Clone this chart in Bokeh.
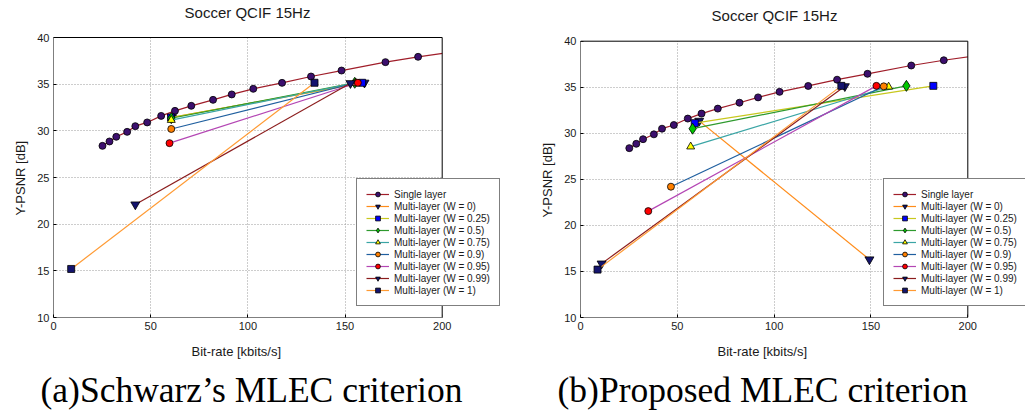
from bokeh.plotting import figure
from bokeh.models import (Range1d, Legend, LegendItem, Title, FixedTicker,
                          BoxAnnotation, Label)
from bokeh.layouts import row
from bokeh.embed import file_html
from bokeh.resources import INLINE

# ---- data -----------------------------------------------------------
single_x = [25.2, 28.8, 32.3, 37.9, 42.1, 48.2, 55.4, 62.5, 70.9, 82.1, 91.7,
            102.8, 117.6, 132.5, 148.2, 170.8, 187.6, 212.0]
single_y = [28.39, 28.86, 29.36, 29.89, 30.5, 30.9, 31.6, 32.14, 32.68, 33.32,
            33.9, 34.5, 35.14, 35.82, 36.46, 37.36, 37.93, 38.65]

weights = ["0", "0.25", "0.5", "0.75", "0.9", "0.95", "0.99", "1"]

# (a) Schwarz's MLEC criterion: base-layer point and enhancement point
schwarz_base_x = [61.0, 60.5, 60.6, 60.6, 60.6, 59.7, 42.1, 9.1]
schwarz_base_y = [31.45, 31.43, 31.35, 31.15, 30.2, 28.68, 22.1, 15.2]
schwarz_end_x = [160.0, 158.8, 155.0, 155.5, 155.8, 156.6, 152.8, 134.3]
schwarz_end_y = [35.15, 35.15, 35.15, 35.15, 35.15, 35.15, 35.1, 35.15]

# (b) Proposed MLEC criterion
proposed_base_x = [61.3, 59.0, 57.9, 56.9, 46.7, 35.0, 10.9, 8.8]
proposed_base_y = [31.35, 31.1, 30.5, 28.55, 24.2, 21.55, 15.85, 15.2]
proposed_end_x = [149.2, 182.2, 168.3, 159.1, 156.6, 152.8, 136.5, 134.7]
proposed_end_y = [16.3, 35.15, 35.15, 35.05, 35.1, 35.15, 35.1, 35.15]

x_ticks = [0, 50, 100, 150, 200]
y_ticks = [10, 15, 20, 25, 30, 35, 40]

title_text = "Soccer QCIF 15Hz"
x_label = "Bit-rate [kbits/s]"
y_label = "Y-PSNR [dB]"
captions = ["(a)Schwarz\u2019s MLEC criterion", "(b)Proposed MLEC criterion"]

# ---- styles ---------------------------------------------------------
line_colors = ["#ff8c1a", "#c8c81e", "#2e9a2e", "#3aa5a5", "#1f5f9f",
               "#b446b4", "#8b1c1c", "#ff9a33"]
marker_fill = ["#14146e", "#0000ff", "#00c800", "#ffff00", "#ff8000",
               "#ff0000", "#14146e", "#14146e"]
marker_type = ["inverted_triangle", "square", "diamond", "triangle", "circle",
               "circle", "inverted_triangle", "square"]
marker_size = [9, 7, 11, 8, 7, 7, 9, 7]

SANS = "Liberation Sans"
H = 417
BOTTOM = 100


def make_panel(bx, by, ex, ey, caption, width, left, px_per_x, y_top_px,
               title_cx, title_cy, cap_offset, xlab_offset, ylab_offset):
    frame_w = width - left
    frame_h = H - BOTTOM
    x_end = x_ticks[-1] * frame_w / (px_per_x * x_ticks[-1])
    ppu = (frame_h - y_top_px) / (y_ticks[-1] - y_ticks[0])
    y_end = y_ticks[-1] + y_top_px / ppu

    p = figure(width=width, height=H, output_backend="svg", toolbar_location=None,
               x_range=Range1d(0, x_end), y_range=Range1d(y_ticks[0], y_end),
               min_border_left=left, min_border_right=0,
               min_border_top=0, min_border_bottom=BOTTOM,
               background_fill_color="white", border_fill_color="white")
    p.outline_line_color = None

    for ax in (p.xaxis[0], p.yaxis[0]):
        ax.axis_line_color = None
        ax.major_tick_line_color = "black"
        ax.major_tick_in = 3
        ax.major_tick_out = 0
        ax.minor_tick_line_color = None
        ax.major_label_text_font = SANS
        ax.major_label_text_font_size = "11px"
        ax.major_label_text_color = "#1a1a1a"
        ax.major_label_standoff = 4
    p.xaxis[0].ticker = FixedTicker(ticks=x_ticks)
    p.yaxis[0].ticker = FixedTicker(ticks=y_ticks)

    for g in (p.xgrid[0], p.ygrid[0]):
        g.grid_line_color = "#9a9a9a"
        g.grid_line_dash = "1 2"
        g.grid_line_width = 1
    p.xgrid[0].ticker = FixedTicker(ticks=x_ticks[1:-1])
    p.ygrid[0].ticker = FixedTicker(ticks=y_ticks[1:-1])

    items = []
    l0 = p.line(single_x, single_y, line_color="#a01e2a", line_width=1.2)
    s0 = p.scatter(single_x, single_y, marker="circle", size=7,
                   fill_color="#3c0f6e", line_color="black", line_width=0.8)
    items.append(LegendItem(label="Single layer", renderers=[l0, s0]))

    for i, w in enumerate(weights):
        xs = [bx[i], ex[i]]
        ys = [by[i], ey[i]]
        ln = p.line(xs, ys, line_color=line_colors[i], line_width=1.2)
        sc = p.scatter(xs, ys, marker=marker_type[i], size=marker_size[i],
                       fill_color=marker_fill[i], line_color="black",
                       line_width=0.8)
        items.append(LegendItem(label=f"Multi-layer (W = {w})", renderers=[ln, sc]))

    p.add_layout(BoxAnnotation(left=x_ticks[-1], fill_color="white", fill_alpha=1,
                               line_color=None))
    p.add_layout(BoxAnnotation(bottom=y_ticks[-1], fill_color="white", fill_alpha=1,
                               line_color=None))
    p.add_layout(BoxAnnotation(left=x_ticks[0], right=x_ticks[-1],
                               bottom=y_ticks[0], top=y_ticks[-1],
                               fill_alpha=0, line_color="black", line_width=1,
                               line_alpha=1))

    p.add_layout(Label(x=title_cx, y=frame_h - title_cy, x_units="screen",
                       y_units="screen", text=title_text, text_align="center",
                       text_baseline="middle", text_font=SANS,
                       text_font_size="15px", text_color="#1a1a1a"))

    leg = Legend(items=items, location=(303, 11))
    leg.label_text_font = SANS
    leg.label_text_font_size = "10px"
    leg.label_text_color = "#1a1a1a"
    leg.label_height = 12
    leg.glyph_height = 12
    leg.glyph_width = 23
    leg.spacing = 0
    leg.padding = 9
    leg.margin = 0
    leg.label_standoff = 5
    leg.border_line_color = "black"
    leg.border_line_width = 1
    leg.background_fill_color = "white"
    leg.background_fill_alpha = 1
    p.add_layout(leg, "center")

    p.add_layout(Title(text=x_label, align="left", offset=xlab_offset,
                       text_font=SANS, text_font_size="13px",
                       text_font_style="normal", text_color="#1a1a1a",
                       standoff=18), "below")
    p.add_layout(Title(text=caption, align="left", offset=cap_offset,
                       text_font="Liberation Serif", text_font_size="35.5px",
                       text_font_style="normal", text_color="black",
                       standoff=0), "below")
    p.add_layout(Title(text=y_label, align="left", offset=ylab_offset,
                       text_font=SANS, text_font_size="13px",
                       text_font_style="normal", text_color="#1a1a1a",
                       standoff=14), "left")
    return p


p1 = make_panel(schwarz_base_x, schwarz_base_y, schwarz_end_x, schwarz_end_y,
                captions[0], 512, 53, 1.9435, 37.0, 194, 12, -13, 138, 102)
p2 = make_panel(proposed_base_x, proposed_base_y, proposed_end_x, proposed_end_y,
                captions[1], 513, 68, 1.9365, 40.7, 194, 15, -23, 137, 100)

layout = row(p1, p2)
open("out.html", "w").write(file_html(layout, INLINE))
